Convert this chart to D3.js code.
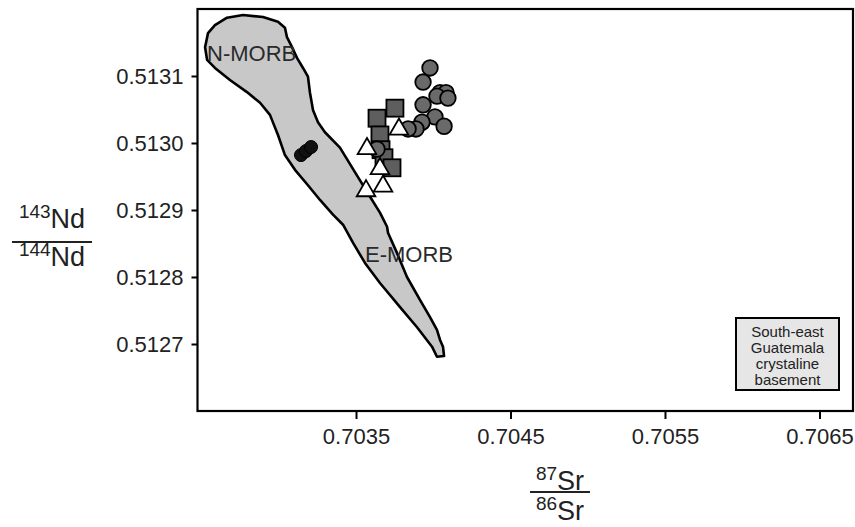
<!DOCTYPE html>
<html>
<head>
<meta charset="utf-8">
<script src="https://cdn.jsdelivr.net/npm/d3@7"></script>
<style>
  html, body { margin: 0; padding: 0; background: #fff; }
  svg { display: block; }
  text { font-family: "Liberation Sans", Arial, Helvetica, sans-serif; fill: #222; }
</style>
</head>
<body>
<svg id="chart" width="855" height="527"></svg>
<script>
// 87Sr/86Sr vs 143Nd/144Nd isotope diagram

const xTicks = [0.7035, 0.7045, 0.7055, 0.7065];
const yTicks = [0.5127, 0.5128, 0.5129, 0.5130, 0.5131];

// MORB field outline, [87Sr/86Sr, 143Nd/144Nd]
const morbField = [
  [0.702523, 0.513143], [0.702542, 0.513164], [0.702587, 0.513176], [0.702665, 0.513187],
  [0.702769, 0.513191], [0.702898, 0.513188], [0.702995, 0.513181], [0.703040, 0.513172],
  [0.703053, 0.513158], [0.703086, 0.513143], [0.703118, 0.513127], [0.703157, 0.513112],
  [0.703189, 0.513099], [0.703202, 0.513075], [0.703222, 0.513049], [0.703254, 0.513031],
  [0.703299, 0.513016], [0.703396, 0.512993], [0.703500, 0.512954], [0.703604, 0.512915],
  [0.703655, 0.512896], [0.703701, 0.512875], [0.703707, 0.512866], [0.703765, 0.512836],
  [0.703830, 0.512800], [0.703914, 0.512766], [0.703979, 0.512740], [0.704024, 0.512721],
  [0.704044, 0.512706], [0.704063, 0.512696], [0.704070, 0.512682], [0.704024, 0.512681],
  [0.703992, 0.512696], [0.703895, 0.512725], [0.703785, 0.512755], [0.703655, 0.512791],
  [0.703558, 0.512821], [0.703481, 0.512851], [0.703416, 0.512878], [0.703351, 0.512893],
  [0.703267, 0.512915], [0.703189, 0.512937], [0.703105, 0.512960], [0.703040, 0.512982],
  [0.702995, 0.513012], [0.702943, 0.513042], [0.702879, 0.513060], [0.702794, 0.513076],
  [0.702684, 0.513094], [0.702587, 0.513112], [0.702536, 0.513124]
];

// Sample groups, [87Sr/86Sr, 143Nd/144Nd]
const grayCircles = [
  [0.703979, 0.513112], [0.703934, 0.513091], [0.704044, 0.513075], [0.704083, 0.513075],
  [0.704024, 0.513070], [0.704095, 0.513067], [0.703934, 0.513057], [0.704011, 0.513039],
  [0.704070, 0.513025], [0.703927, 0.513031], [0.703888, 0.513021], [0.703837, 0.513021],
  [0.703636, 0.512991]
];
const graySquares = [
  [0.703752, 0.513052], [0.703636, 0.513037], [0.703655, 0.513012], [0.703662, 0.512990],
  [0.703681, 0.512978], [0.703733, 0.512963]
];
const openTriangles = [
  [0.703778, 0.513022], [0.703571, 0.512993], [0.703655, 0.512963], [0.703675, 0.512937],
  [0.703565, 0.512930]
];
const blackDots = [
  [0.703144, 0.512982], [0.703176, 0.512988], [0.703209, 0.512994]
];

const fieldLabels = [
  { text: "N-MORB", at: [0.702536, 0.513122] },
  { text: "E-MORB", at: [0.703558, 0.512823] }
];
const legendLines = ["South-east", "Guatemala", "crystaline", "basement"];

(function draw() {
  const svg = d3.select("#chart");
  const m = { left: 197.5, right: 853, top: 9, bottom: 411 };

  const x = d3.scaleLinear().domain([0.702474, 0.706717]).range([m.left, m.right]);
  const y = d3.scaleLinear().domain([0.5126, 0.5132]).range([m.bottom, m.top]);

  // MORB field
  svg.append("path")
    .datum(morbField)
    .attr("d", d3.line().x(d => x(d[0])).y(d => y(d[1])).curve(d3.curveLinearClosed))
    .attr("fill", "#c8c8c8")
    .attr("stroke", "#000")
    .attr("stroke-width", 2.6)
    .attr("stroke-linejoin", "round");

  svg.selectAll(".field-label")
    .data(fieldLabels)
    .join("text")
    .attr("class", "field-label")
    .attr("x", d => x(d.at[0]))
    .attr("y", d => y(d.at[1]))
    .attr("font-size", 22)
    .style("fill", "#2a2a2a")
    .text(d => d.text);

  // sample symbols
  const pts = svg.append("g");
  pts.selectAll(".sq")
    .data(graySquares)
    .join("rect")
    .attr("x", d => x(d[0]) - 8.5)
    .attr("y", d => y(d[1]) - 8.5)
    .attr("width", 17).attr("height", 17)
    .attr("fill", "#5e5e5e").attr("stroke", "#000").attr("stroke-width", 1.8);

  pts.selectAll(".ci")
    .data(grayCircles)
    .join("circle")
    .attr("cx", d => x(d[0]))
    .attr("cy", d => y(d[1]))
    .attr("r", 7.8)
    .attr("fill", "#6a6a6a").attr("stroke", "#000").attr("stroke-width", 1.8);

  const tri = d3.symbol().type(d3.symbolTriangle).size(150);
  pts.selectAll(".tr")
    .data(openTriangles)
    .join("path")
    .attr("transform", d => `translate(${x(d[0])},${y(d[1]) + 1})`)
    .attr("d", tri)
    .attr("fill", "#fff").attr("stroke", "#000").attr("stroke-width", 1.8)
    .attr("stroke-linejoin", "miter");

  pts.selectAll(".bd")
    .data(blackDots)
    .join("circle")
    .attr("cx", d => x(d[0]))
    .attr("cy", d => y(d[1]))
    .attr("r", 6.5)
    .attr("fill", "#111").attr("stroke", "#000").attr("stroke-width", 1);

  // axes
  const yAxis = svg.append("g")
    .attr("transform", `translate(${m.left},0)`)
    .call(d3.axisLeft(y).tickValues(yTicks).tickFormat(d3.format(".4f")).tickSize(6).tickPadding(8).tickSizeOuter(0));
  const xAxis = svg.append("g")
    .attr("transform", `translate(0,${m.bottom})`)
    .call(d3.axisBottom(x).tickValues(xTicks).tickFormat(d3.format(".4f")).tickSize(8).tickPadding(9).tickSizeOuter(0));
  [xAxis, yAxis].forEach(g => {
    g.select(".domain").remove();
    g.selectAll(".tick line").attr("stroke", "#000").attr("stroke-width", 2);
    g.selectAll(".tick text").attr("font-size", 22).style("fill", "#222")
      .attr("font-family", "'Liberation Sans', Arial, sans-serif");
  });

  // plot frame
  svg.append("rect")
    .attr("x", m.left).attr("y", m.top)
    .attr("width", m.right - m.left).attr("height", m.bottom - m.top)
    .attr("fill", "none").attr("stroke", "#000").attr("stroke-width", 2.2);

  // legend box
  const lg = svg.append("g").attr("transform", "translate(736,318)");
  lg.append("rect").attr("width", 103).attr("height", 72)
    .attr("fill", "#e6e6e6").attr("stroke", "#000").attr("stroke-width", 2);
  lg.selectAll("text")
    .data(legendLines)
    .join("text")
    .attr("x", 51.5)
    .attr("y", (d, i) => 19 + i * 16)
    .attr("text-anchor", "middle")
    .attr("font-size", 15)
    .style("fill", "#222")
    .text(d => d);

  // axis titles as isotope ratios
  function ratio(cx, numBase, lineY, denBase, numIso, denIso, el, elSize, supSize, lineW) {
    const g = svg.append("g");
    [[numIso, numBase], [denIso, denBase]].forEach(([iso, base]) => {
      const t = g.append("text").attr("x", cx).attr("y", base).attr("text-anchor", "middle");
      t.append("tspan").attr("font-size", supSize).attr("dy", -elSize * 0.38).text(iso);
      t.append("tspan").attr("font-size", elSize).attr("dy", elSize * 0.38).text(el);
    });
    g.append("line")
      .attr("x1", cx - lineW / 2).attr("x2", cx + lineW / 2)
      .attr("y1", lineY).attr("y2", lineY)
      .attr("stroke", "#222").attr("stroke-width", 2);
  }
  ratio(52, 228, 242, 266, "143", "144", "Nd", 27, 19, 80);
  ratio(560, 490, 492, 520, "87", "86", "Sr", 27, 19, 60);
})();
</script>
</body>
</html>
